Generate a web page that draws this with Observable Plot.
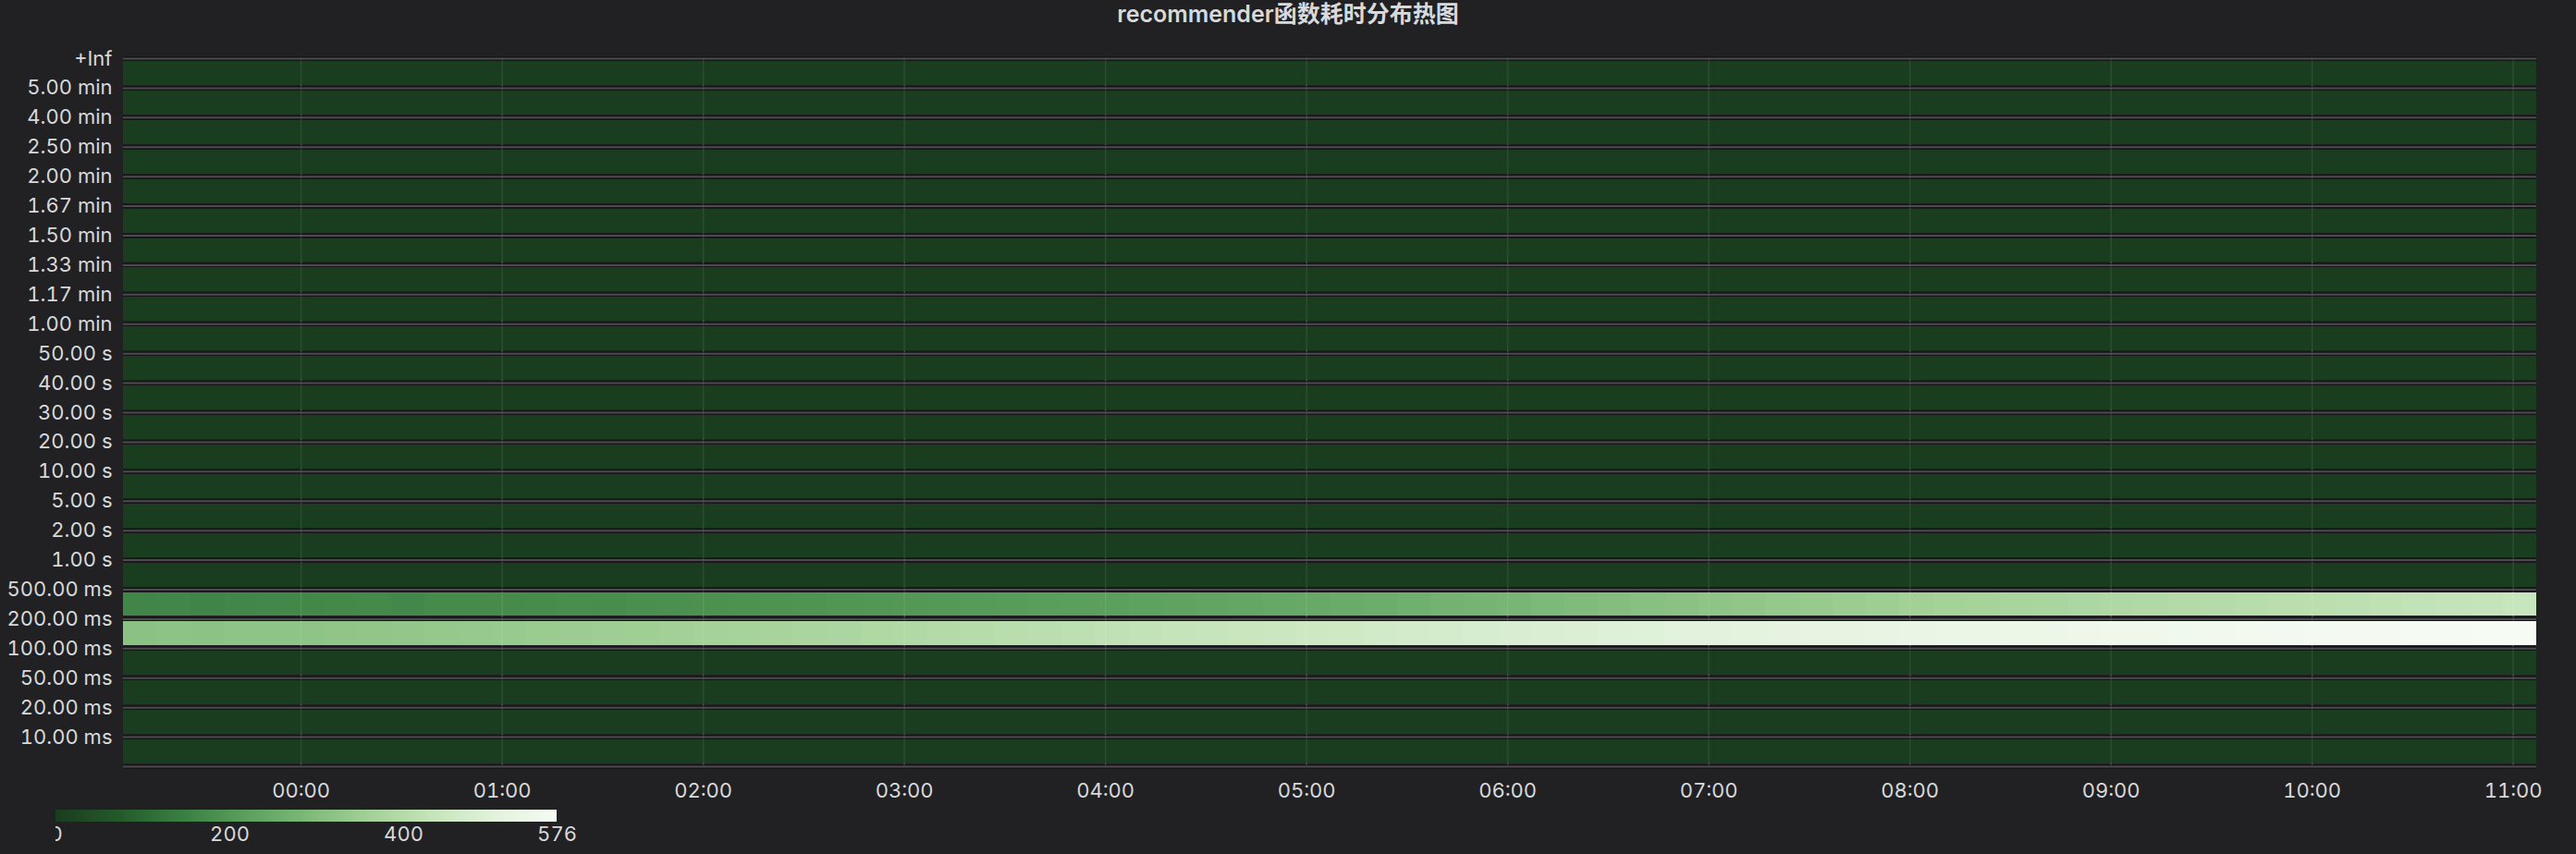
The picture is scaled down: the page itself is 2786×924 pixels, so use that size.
<!DOCTYPE html>
<html>
<head>
<meta charset="utf-8">
<script src="https://cdn.jsdelivr.net/npm/d3@7"></script>
<script src="https://cdn.jsdelivr.net/npm/@observablehq/plot@0.6"></script>
<style>
  html, body { margin: 0; padding: 0; background: #212124; }
  body { width: 2786px; height: 924px; overflow: hidden; font-family: Inter, "Noto Sans CJK SC", sans-serif; }
  #title { height: 30px; line-height: 30px; text-align: center; color: #d8d9da; font-size: 25px; font-weight: 600; font-family: Inter, "Noto Sans CJK SC", sans-serif; }
  #chart svg text { font-size: 22px; fill: #d8d9da; }
  #legend { margin-left: 60px; margin-top: 6px; }
  #legend svg text { font-size: 22px; fill: #d8d9da; }
  #legend svg line { stroke: none; }
</style>
</head>
<body>
<div id="title">recommender函数耗时分布热图</div>
<div id="chart"></div>
<div id="legend"></div>
<script>
// Bucket boundary labels, top to bottom
const yLabels = ["+Inf","5.00 min","4.00 min","2.50 min","2.00 min","1.67 min","1.50 min","1.33 min","1.17 min","1.00 min",
  "50.00 s","40.00 s","30.00 s","20.00 s","10.00 s","5.00 s","2.00 s","1.00 s",
  "500.00 ms","200.00 ms","100.00 ms","50.00 ms","20.00 ms","10.00 ms"];
// X tick labels
const xTickLabels = ["00:00","01:00","02:00","03:00","04:00","05:00","06:00","07:00","08:00","09:00","10:00","11:00"];
// Time range (12 h) and bin size in minutes
const timeStart = "2024-01-01T23:07:00Z";
const timeEnd = "2024-01-02T11:07:00Z";
const binMinutes = 10;
// Counts per 10-minute bin, bucket 200–500 ms
const bucket200to500 = [
  160,162,158,163,165,164,
  166,168,165,170,172,171,
  174,177,175,180,182,184,
  186,189,192,195,198,200,
  203,207,210,213,216,219,
  223,228,232,236,240,245,
  250,256,262,268,274,280,
  287,294,301,308,315,322,
  328,334,340,346,352,358,
  363,368,372,377,382,386,
  390,395,399,404,408,412,
  416,420,425,429,433,440];
// Counts per 10-minute bin, bucket 100–200 ms
const bucket100to200 = [
  315,318,316,320,322,321,
  325,328,330,333,336,338,
  342,346,350,354,358,362,
  366,371,375,380,385,390,
  395,400,406,411,416,421,
  426,431,436,441,446,451,
  456,461,466,471,476,480,
  485,490,494,498,503,507,
  511,515,519,523,527,531,
  534,538,541,544,547,550,
  553,556,558,561,563,566,
  568,570,572,574,576,575];
// Other buckets are empty
const otherBucketValue = 0;
const colorMax = 576;
const legendTicks = [0, 200, 400, 576];
const colorStops = ["#1b3d1f","#245a2b","#3a7f42","#5a9f5c","#7db978","#a3d197","#c5e4ba","#e2f2dc","#f6fbf4"];

const t0 = new Date(timeStart), t1 = new Date(timeEnd);
const nRows = yLabels.length; // 24 rows, row 0 at bottom
const cells = [];
for (let r = 0; r < nRows; r++) {
  for (let i = 0; i < bucket100to200.length; i++) {
    const a = new Date(+t0 + i * binMinutes * 60000);
    const b = new Date(+t0 + (i + 1) * binMinutes * 60000);
    let v = otherBucketValue;
    if (r === 4) v = bucket100to200[i];
    if (r === 5) v = bucket200to500[i];
    cells.push({x1: a, x2: b, y1: r, y2: r + 1, v});
  }
}
const boundaries = d3.range(nRows + 1);
const yTicks = d3.range(1, nRows + 1);
const hourTicks = xTickLabels.map(s => new Date("2024-01-02T" + s + ":00Z"));
const colorInterp = d3.piecewise(d3.interpolateRgb, colorStops);
const fmt = d3.utcFormat("%H:%M");

const chart = Plot.plot({
  width: 2786,
  height: 840,
  marginTop: 33,
  marginBottom: 41,
  marginLeft: 133,
  marginRight: 43,
  style: {background: "transparent", color: "#d8d9da", fontFamily: "Inter, 'Noto Sans CJK SC', sans-serif", fontSize: "22px"},
  x: {type: "utc", domain: [t0, t1], ticks: hourTicks, tickFormat: fmt, tickSize: 0, tickPadding: 18, label: null},
  y: {domain: [0, nRows], ticks: yTicks, tickFormat: i => yLabels[nRows - i], tickSize: 0, tickPadding: 12, label: null},
  color: {type: "linear", domain: [0, colorMax], interpolate: colorInterp},
  marks: [
    Plot.ruleX(hourTicks, {x: d => d, y1: 0, y2: nRows, stroke: "#4d4d51", strokeWidth: 1.5}),
    Plot.ruleY(boundaries, {y: d => d, stroke: "#161617", strokeWidth: 5}),
    Plot.ruleY(boundaries, {y: d => d, stroke: "#4b4b4f", strokeWidth: 2}),
    Plot.rect(cells, {x1: "x1", x2: "x2", y1: "y1", y2: "y2", fill: "v", insetTop: 3, insetBottom: 3, shapeRendering: "crispEdges"}),
    Plot.ruleX(hourTicks, {x: d => d, y1: 0, y2: nRows, stroke: "#ffffff", strokeOpacity: 0.08, strokeWidth: 1.5})
  ]
});
document.getElementById("chart").appendChild(chart);

const legend = Plot.legend({
  color: {type: "linear", domain: [0, colorMax], interpolate: colorInterp},
  legend: "ramp",
  label: null,
  width: 542 + 25,
  height: 47,
  marginTop: 0,
  marginBottom: 34,
  marginLeft: 0,
  marginRight: 25,
  tickSize: 2,
  ticks: legendTicks,
  style: {background: "transparent", color: "#d8d9da", fontSize: "22px", overflow: "hidden", fontFamily: "Inter, sans-serif"}
});
document.getElementById("legend").appendChild(legend);
</script>
</body>
</html>
